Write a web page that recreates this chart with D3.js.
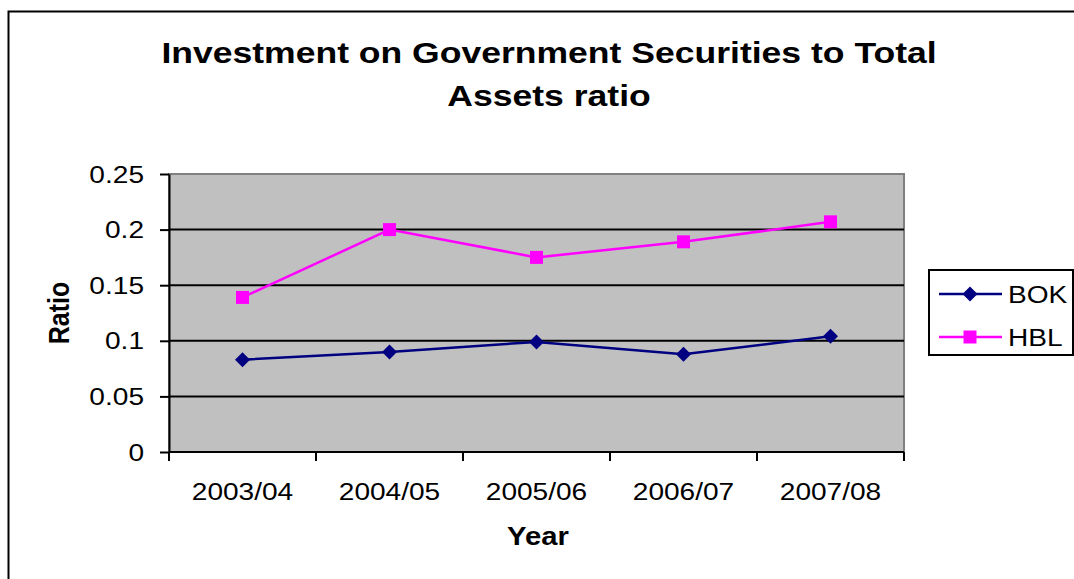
<!DOCTYPE html>
<meta charset="utf-8">
<head>
<script src="https://d3js.org/d3.v7.min.js"></script>
<style>
  body { margin: 0; background: #fff; }
  text { font-family: "Liberation Sans", Arial, sans-serif; fill: #000; }
</style>
</head>
<body>
<div id="chart"></div>
<script>

// data
var years = ["2003/04", "2004/05", "2005/06", "2006/07", "2007/08"];
var bok = [0.083, 0.090, 0.099, 0.088, 0.104];
var hbl = [0.139, 0.200, 0.175, 0.189, 0.207];
var yTicks = [0, 0.05, 0.1, 0.15, 0.2, 0.25];
var seriesNames = ["BOK", "HBL"];

var W = 1074, H = 579;
var sx = 1.17; // text in the picture is a bit wide

var svg = d3.select("#chart").append("svg")
  .attr("width", W).attr("height", H);

// outer chart frame (runs off the right and bottom)
svg.append("path")
  .attr("d", "M8.5," + H + " V11.5 H" + W)
  .attr("fill", "none").attr("stroke", "#000").attr("stroke-width", 2);

var plot = {left: 169, right: 904, top: 174, bottom: 452};

var x = d3.scaleBand().domain(years).range([plot.left, plot.right]);
var y = d3.scaleLinear().domain([0, 0.25]).range([plot.bottom, plot.top]);

function label(g, str, px, py, size, weight, anchor, rot, stretch) {
  return g.append("text")
    .attr("transform", "translate(" + px + "," + py + ") scale(" + (stretch || sx) + ",1)" + (rot ? " rotate(" + rot + ")" : ""))
    .attr("font-size", size)
    .attr("font-weight", weight || "normal")
    .attr("text-anchor", anchor || "middle")
    .text(str);
}

// title
label(svg, "Investment on Government Securities to Total", 549, 63, 30, "bold", "middle", 0, 1.185);
label(svg, "Assets ratio", 549, 106, 30, "bold", "middle", 0, 1.185);

// plot background
svg.append("rect")
  .attr("x", plot.left).attr("y", plot.top)
  .attr("width", plot.right - plot.left).attr("height", plot.bottom - plot.top)
  .attr("fill", "#c0c0c0").attr("stroke", "#808080").attr("stroke-width", 2);

// gridlines
svg.append("g").selectAll("line")
  .data(yTicks.filter(function(d) { return d > 0 && d < 0.25; }))
  .join("line")
  .attr("x1", plot.left).attr("x2", plot.right)
  .attr("y1", function(d) { return y(d); }).attr("y2", function(d) { return y(d); })
  .attr("stroke", "#000").attr("stroke-width", 2);

// y axis
var yAxis = svg.append("g")
  .attr("transform", "translate(" + plot.left + ",0)")
  .call(d3.axisLeft(y).tickValues(yTicks).tickSize(9).tickSizeOuter(0)
    .tickFormat(function(d) { return String(+d.toFixed(2)); }));
yAxis.selectAll("text").remove();
yAxis.selectAll("line, path").attr("stroke", "#000").attr("stroke-width", 2);
yTicks.forEach(function(d) {
  label(svg, String(+d.toFixed(2)), 144, y(d) + 8.5, 24, "normal", "end");
});

// x axis, ticks on category boundaries
var xAxis = svg.append("g")
  .attr("transform", "translate(0," + plot.bottom + ")");
xAxis.append("line")
  .attr("x1", plot.left).attr("x2", plot.right)
  .attr("stroke", "#000").attr("stroke-width", 2);
var bounds = years.map(function(d) { return x(d); }).concat([plot.right]);
xAxis.selectAll(".tick").data(bounds).join("line")
  .attr("x1", function(d) { return d; }).attr("x2", function(d) { return d; })
  .attr("y1", 0).attr("y2", 9)
  .attr("stroke", "#000").attr("stroke-width", 2);
years.forEach(function(d) {
  label(svg, d, x(d) + x.bandwidth() / 2, 500, 24);
});

// axis titles
label(svg, "Year", 538, 545, 25, "bold");
label(svg, "Ratio", 69, (plot.top + plot.bottom) / 2, 25, "bold", "middle", -90);

var cx = function(d, i) { return x(years[i]) + x.bandwidth() / 2; };
var line = d3.line().x(cx).y(function(d) { return y(d); });

var colors = {BOK: "#000080", HBL: "#ff00ff"};
var diamond = "M0,-7.5 L7.5,0 L0,7.5 L-7.5,0 Z";
var square = "M-6.5,-6.5 H6.5 V6.5 H-6.5 Z";

function drawSeries(vals, color, shape) {
  svg.append("path").datum(vals)
    .attr("fill", "none").attr("stroke", color).attr("stroke-width", 2.5)
    .attr("d", line);
  svg.append("g").selectAll("path").data(vals).join("path")
    .attr("transform", function(d, i) { return "translate(" + cx(d, i) + "," + y(d) + ")"; })
    .attr("d", shape).attr("fill", color);
}
drawSeries(hbl, colors.HBL, square);
drawSeries(bok, colors.BOK, diamond);

// legend
var lg = svg.append("g");
lg.append("rect")
  .attr("x", 929).attr("y", 270).attr("width", 144).attr("height", 85)
  .attr("fill", "#fff").attr("stroke", "#000").attr("stroke-width", 2);
var shapes = {BOK: diamond, HBL: square};
seriesNames.forEach(function(name, i) {
  var ly = 294 + i * 43;
  lg.append("line").attr("x1", 939).attr("x2", 1002).attr("y1", ly).attr("y2", ly)
    .attr("stroke", colors[name]).attr("stroke-width", 2.5);
  lg.append("path").attr("transform", "translate(970," + ly + ")")
    .attr("d", shapes[name]).attr("fill", colors[name]);
  label(lg, name, 1008, ly + 8.5, 24, "normal", "start");
});

</script>
</body>
</html>
